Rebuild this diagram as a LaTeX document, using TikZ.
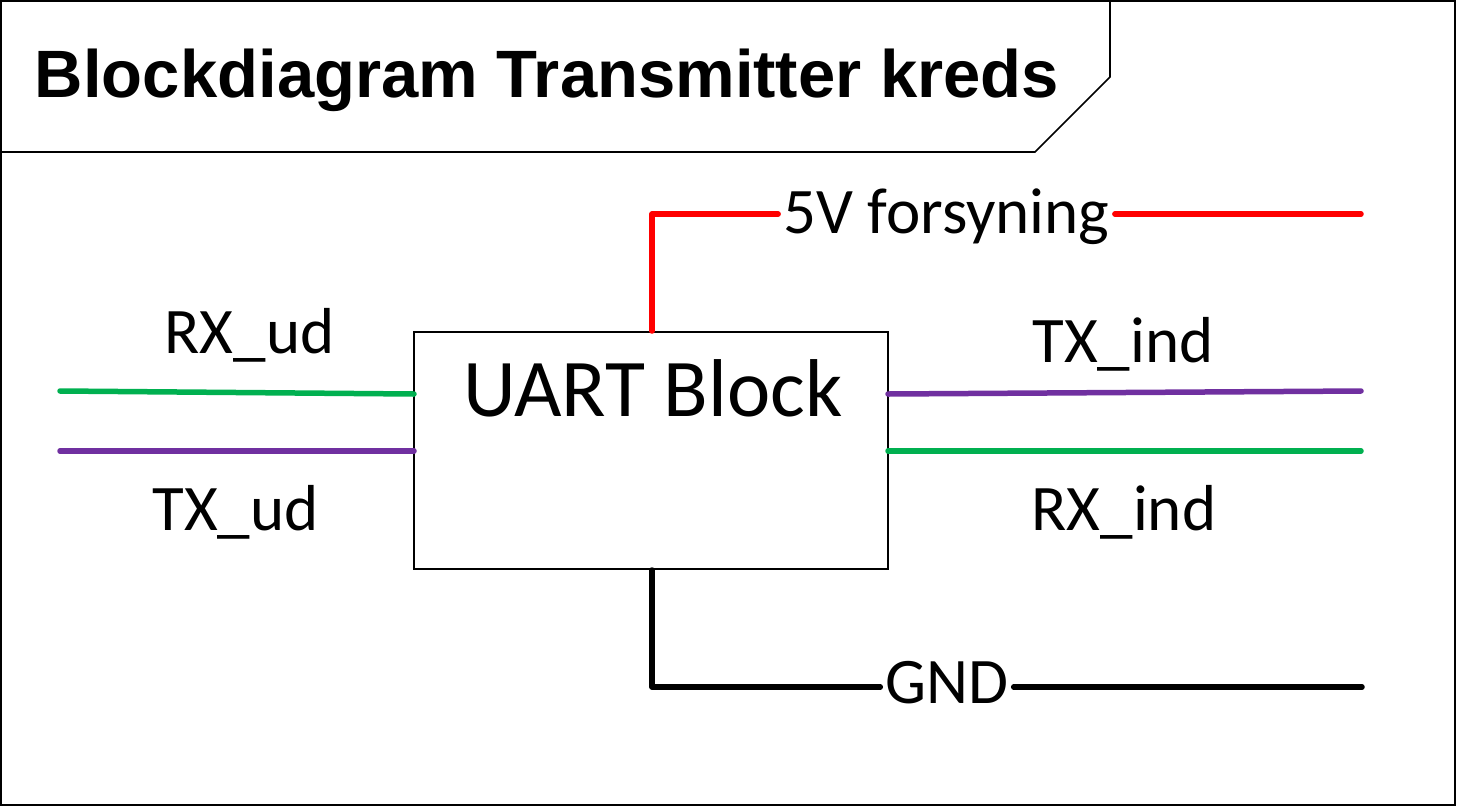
\documentclass[tikz,border=0pt]{standalone}
\usepackage{fontspec}
\setmainfont{Carlito}
\newfontfamily\titlefont{Liberation Sans}
\definecolor{wgreen}{HTML}{00B050}
\definecolor{wpurple}{HTML}{7030A0}
\definecolor{wred}{HTML}{FF0000}
\begin{document}
\begin{tikzpicture}[x=1pt,y=-1pt,
  lbl/.style={inner sep=0pt, anchor=base, font=\fontsize{65}{78}\selectfont},
  wire/.style={line width=5.5pt, line cap=round, line join=round},
  frame/.style={draw=black, line width=2pt}]
\useasboundingbox (0,0) rectangle (1457,807);
% outer frame
\draw[frame] (1,1) rectangle (1455,805);
% title tab
\draw[line width=1.6pt] (1,152) -- (1035,152) -- (1110,77) -- (1110,1);
\node[inner sep=0pt, anchor=base, font=\titlefont\bfseries\fontsize{67}{80}\selectfont] (title) at (547,97) {Blockdiagram Transmitter kreds};
% main block
\node[draw, line width=2pt, minimum width=474pt, minimum height=237pt, inner sep=0pt] (uart) at (651,450.5) {};
\node[inner sep=0pt, anchor=base, font=\fontsize{82}{98}\selectfont] (uartlbl) at (653,416) {UART Block};
% labels
\node[lbl, inner xsep=5pt] (pwr) at (946.5,233) {5V forsyning};
\node[lbl, inner xsep=5pt] (gnd) at (947,703) {GND};
\node[lbl] (rxud) at (249.5,353) {RX\_ud};
\node[lbl] (txud) at (235.5,530) {TX\_ud};
\node[lbl] (txind) at (1123,362) {TX\_ind};
\node[lbl] (rxind) at (1124,530) {RX\_ind};
% coordinates
\coordinate (redc) at (652,214);
\coordinate (redend) at (1361,214);
\coordinate (gndc) at (652,687);
\coordinate (gndend) at (1362,687);
\coordinate (lg) at (60,391);
\coordinate (lgb) at (414,394);
\coordinate (lp) at (60,451);
\coordinate (lpb) at (414,451);
\coordinate (rpb) at (888,394);
\coordinate (rp) at (1361,391);
\coordinate (rgb) at (888,451);
\coordinate (rg) at (1361,451);
% wires
\draw[wire, wred] (uart.north -| redc) -- (redc) -- (pwr.west |- redc);
\draw[wire, wred] (pwr.east |- redc) -- (redend);
\draw[wire, black] (uart.south -| gndc) -- (gndc) -- (gnd.west |- gndc);
\draw[wire, black] (gnd.east |- gndc) -- (gndend);
\draw[wire, wgreen] (lg) -- (lgb);
\draw[wire, wpurple] (lp) -- (lpb);
\draw[wire, wpurple] (rpb) -- (rp);
\draw[wire, wgreen] (rgb) -- (rg);
\end{tikzpicture}
\end{document}
